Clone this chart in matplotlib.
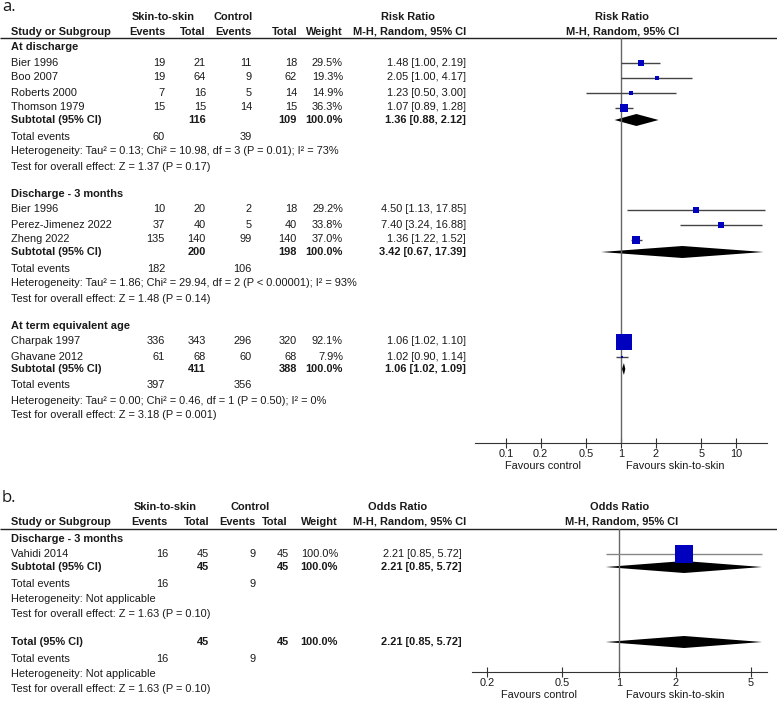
import matplotlib.pyplot as plt
import numpy as np

# Panel a: skin-to-skin vs control, risk ratio by timepoint
groups_a = ["At discharge", "Discharge - 3 months", "At term equivalent age"]
study_a = ["Bier 1996", "Boo 2007", "Roberts 2000", "Thomson 1979",
           "Bier 1996", "Perez-Jimenez 2022", "Zheng 2022",
           "Charpak 1997", "Ghavane 2012"]
group_a = [0, 0, 0, 0, 1, 1, 1, 2, 2]
ev_skin_a = [19, 19, 7, 15, 10, 37, 135, 336, 61]
tot_skin_a = [21, 64, 16, 15, 20, 40, 140, 343, 68]
ev_ctrl_a = [11, 9, 5, 14, 2, 5, 99, 296, 60]
tot_ctrl_a = [18, 62, 14, 15, 18, 40, 140, 320, 68]
weight_a = [29.5, 19.3, 14.9, 36.3, 29.2, 33.8, 37.0, 92.1, 7.9]
rr_a = [1.48, 2.05, 1.23, 1.07, 4.50, 7.40, 1.36, 1.06, 1.02]
lo_a = [1.00, 1.00, 0.50, 0.89, 1.13, 3.24, 1.22, 1.02, 0.90]
hi_a = [2.19, 4.17, 3.00, 1.28, 17.85, 16.88, 1.52, 1.10, 1.14]

sub_rr_a = [1.36, 3.42, 1.06]
sub_lo_a = [0.88, 0.67, 1.02]
sub_hi_a = [2.12, 17.39, 1.09]
het_a = ["Heterogeneity: Tau² = 0.13; Chi² = 10.98, df = 3 (P = 0.01); I² = 73%",
         "Heterogeneity: Tau² = 1.86; Chi² = 29.94, df = 2 (P < 0.00001); I² = 93%",
         "Heterogeneity: Tau² = 0.00; Chi² = 0.46, df = 1 (P = 0.50); I² = 0%"]
test_a = ["Test for overall effect: Z = 1.37 (P = 0.17)",
          "Test for overall effect: Z = 1.48 (P = 0.14)",
          "Test for overall effect: Z = 3.18 (P = 0.001)"]
ticks_a = [0.1, 0.2, 0.5, 1, 2, 5, 10]

# Panel b: odds ratio, single study
group_b = "Discharge - 3 months"
study_b = ["Vahidi 2014"]
ev_skin_b = [16]
tot_skin_b = [45]
ev_ctrl_b = [9]
tot_ctrl_b = [45]
weight_b = [100.0]
or_b = [2.21]
lo_b = [0.85]
hi_b = [5.72]
het_b = "Heterogeneity: Not applicable"
test_b = "Test for overall effect: Z = 1.63 (P = 0.10)"
ticks_b = [0.2, 0.5, 1, 2, 5]

plt.rcParams['font.family'] = ['Liberation Sans', 'DejaVu Sans']
FS = 7.9
TXT = '#1a1a1a'
BLUE = '#0000BF'

W, H = 777, 703
fig = plt.figure(figsize=(W / 100, H / 100), dpi=100)
ax = fig.add_axes([0, 0, 1, 1])
ax.set_xlim(0, W)
ax.set_ylim(H, 0)
ax.axis('off')


def txt(x, y, s, ha='left', bold=False, **kw):
    ax.text(x, y, s, ha=ha, va='center', fontsize=FS, color=TXT,
            fontweight='bold' if bold else 'normal', **kw)


def forest_axes(left, right, top, bottom, one_px, decade_px, ticks):
    fa = fig.add_axes([left / W, 1 - bottom / H, (right - left) / W, (bottom - top) / H])
    fa.set_xscale('log')
    fa.set_xlim(10 ** ((left - one_px) / decade_px), 10 ** ((right - one_px) / decade_px))
    fa.set_ylim(bottom, top)
    fa.patch.set_alpha(0)
    for s in ['top', 'left', 'right']:
        fa.spines[s].set_visible(False)
    fa.spines['bottom'].set_color('#333333')
    fa.set_yticks([])
    fa.minorticks_off()
    fa.set_xticks(ticks)
    fa.set_xticklabels([f'{t:g}' for t in ticks])
    fa.tick_params(axis='x', direction='inout', length=7, width=0.8, pad=1,
                   labelsize=FS, colors='#333333', labelcolor=TXT)
    fa.axvline(1, color='#666666', lw=1)
    return fa


def study_mark(fa, y, est, lo, hi, w, line_color):
    fa.hlines(y, lo, hi, color=line_color, lw=1)
    side = 1.5 + 0.16 * w
    fa.plot(est, y, marker='s', ms=side * 0.72, color=BLUE, mec=BLUE, mew=0)


def diamond(fa, y, est, lo, hi):
    fa.fill([lo, est, hi, est], [y, y - 6, y, y + 6], color='black', lw=0)


# ---------------- panel a ----------------
ax.text(2, 11, 'a.', fontsize=12, color=TXT, va='baseline', family=['Open Sans', 'DejaVu Sans'])
cols_a = dict(ev_s=165, tot_s=206, ev_c=252, tot_c=297, wt=343, est=466)
txt(163, 17, 'Skin-to-skin', 'center', True)
txt(233, 17, 'Control', 'center', True)
txt(408, 17, 'Risk Ratio', 'center', True)
txt(622, 17, 'Risk Ratio', 'center', True)
txt(11, 32, 'Study or Subgroup', bold=True)
txt(cols_a['ev_s'], 32, 'Events', 'right', True)
txt(cols_a['tot_s'], 32, 'Total', 'right', True)
txt(cols_a['ev_c'], 32, 'Events', 'right', True)
txt(cols_a['tot_c'], 32, 'Total', 'right', True)
txt(cols_a['wt'], 32, 'Weight', 'right', True)
txt(410, 32, 'M-H, Random, 95% CI', 'center', True)
txt(623, 32, 'M-H, Random, 95% CI', 'center', True)
ax.hlines(37.5, 0, W, color='#222222', lw=1)

fa = forest_axes(475, 767, 37.5, 443, 621, 115, ticks_a)
txt(543, 466, 'Favours control', 'center')
txt(675, 466, 'Favours skin-to-skin', 'center')

y = 47
for g, name in enumerate(groups_a):
    txt(11, y, name, bold=True)
    idx = [i for i in range(len(study_a)) if group_a[i] == g]
    y += 15.5
    for k, i in enumerate(idx):
        if k:
            y += 15
        txt(11, y, study_a[i])
        txt(cols_a['ev_s'], y, str(ev_skin_a[i]), 'right')
        txt(cols_a['tot_s'], y, str(tot_skin_a[i]), 'right')
        txt(cols_a['ev_c'], y, str(ev_ctrl_a[i]), 'right')
        txt(cols_a['tot_c'], y, str(tot_ctrl_a[i]), 'right')
        txt(cols_a['wt'], y, f'{weight_a[i]:.1f}%', 'right')
        txt(cols_a['est'], y, f'{rr_a[i]:.2f} [{lo_a[i]:.2f}, {hi_a[i]:.2f}]', 'right')
        study_mark(fa, y, rr_a[i], lo_a[i], hi_a[i], weight_a[i], '#444444')
    y += 12.5
    txt(11, y, 'Subtotal (95% CI)', bold=True)
    txt(cols_a['tot_s'], y, str(sum(tot_skin_a[i] for i in idx)), 'right', True)
    txt(cols_a['tot_c'], y, str(sum(tot_ctrl_a[i] for i in idx)), 'right', True)
    txt(cols_a['wt'], y, '100.0%', 'right', True)
    txt(cols_a['est'], y, f'{sub_rr_a[g]:.2f} [{sub_lo_a[g]:.2f}, {sub_hi_a[g]:.2f}]', 'right', True)
    diamond(fa, y, sub_rr_a[g], sub_lo_a[g], sub_hi_a[g])
    y += 16.5
    txt(11, y, 'Total events')
    txt(cols_a['ev_s'], y, str(sum(ev_skin_a[i] for i in idx)), 'right')
    txt(cols_a['ev_c'], y, str(sum(ev_ctrl_a[i] for i in idx)), 'right')
    y += 15
    txt(11, y, het_a[g])
    y += 15
    txt(11, y, test_a[g])
    y += 27.5

# ---------------- panel b ----------------
ax.text(2, 502, 'b.', fontsize=12, color=TXT, va='baseline', family=['Open Sans', 'DejaVu Sans'])
cols_b = dict(ev_s=168, tot_s=209, ev_c=256, tot_c=289, wt=338, est=462)
txt(165, 507, 'Skin-to-skin', 'center', True)
txt(250, 507, 'Control', 'center', True)
txt(398, 507, 'Odds Ratio', 'center', True)
txt(620, 507, 'Odds Ratio', 'center', True)
txt(11, 522, 'Study or Subgroup', bold=True)
txt(cols_b['ev_s'], 522, 'Events', 'right', True)
txt(cols_b['tot_s'], 522, 'Total', 'right', True)
txt(cols_b['ev_c'], 522, 'Events', 'right', True)
txt(287, 522, 'Total', 'right', True)
txt(cols_b['wt'], 522, 'Weight', 'right', True)
txt(410, 522, 'M-H, Random, 95% CI', 'center', True)
txt(622, 522, 'M-H, Random, 95% CI', 'center', True)
ax.hlines(528.5, 0, W, color='#222222', lw=1)

fb = forest_axes(472, 767, 528.5, 672, 619, 189, ticks_b)
txt(539, 695, 'Favours control', 'center')
txt(675, 695, 'Favours skin-to-skin', 'center')

y = 539
txt(11, y, group_b, bold=True)
y += 15
for i in range(len(study_b)):
    txt(11, y, study_b[i])
    txt(cols_b['ev_s'], y, str(ev_skin_b[i]), 'right')
    txt(cols_b['tot_s'], y, str(tot_skin_b[i]), 'right')
    txt(cols_b['ev_c'], y, str(ev_ctrl_b[i]), 'right')
    txt(cols_b['tot_c'], y, str(tot_ctrl_b[i]), 'right')
    txt(cols_b['wt'], y, f'{weight_b[i]:.1f}%', 'right')
    txt(cols_b['est'], y, f'{or_b[i]:.2f} [{lo_b[i]:.2f}, {hi_b[i]:.2f}]', 'right')
    study_mark(fb, y, or_b[i], lo_b[i], hi_b[i], weight_b[i], '#888888')

for label, yy in [('Subtotal (95% CI)', 567), ('Total (95% CI)', 642)]:
    txt(11, yy, label, bold=True)
    txt(cols_b['tot_s'], yy, str(sum(tot_skin_b)), 'right', True)
    txt(cols_b['tot_c'], yy, str(sum(tot_ctrl_b)), 'right', True)
    txt(cols_b['wt'], yy, '100.0%', 'right', True)
    txt(cols_b['est'], yy, f'{or_b[0]:.2f} [{lo_b[0]:.2f}, {hi_b[0]:.2f}]', 'right', True)
    diamond(fb, yy, or_b[0], lo_b[0], hi_b[0])
    txt(11, yy + 17, 'Total events')
    txt(cols_b['ev_s'], yy + 17, str(sum(ev_skin_b)), 'right')
    txt(cols_b['ev_c'], yy + 17, str(sum(ev_ctrl_b)), 'right')
    txt(11, yy + 32, het_b)
    txt(11, yy + 47, test_b)

fig.savefig('out.png', dpi=100)
